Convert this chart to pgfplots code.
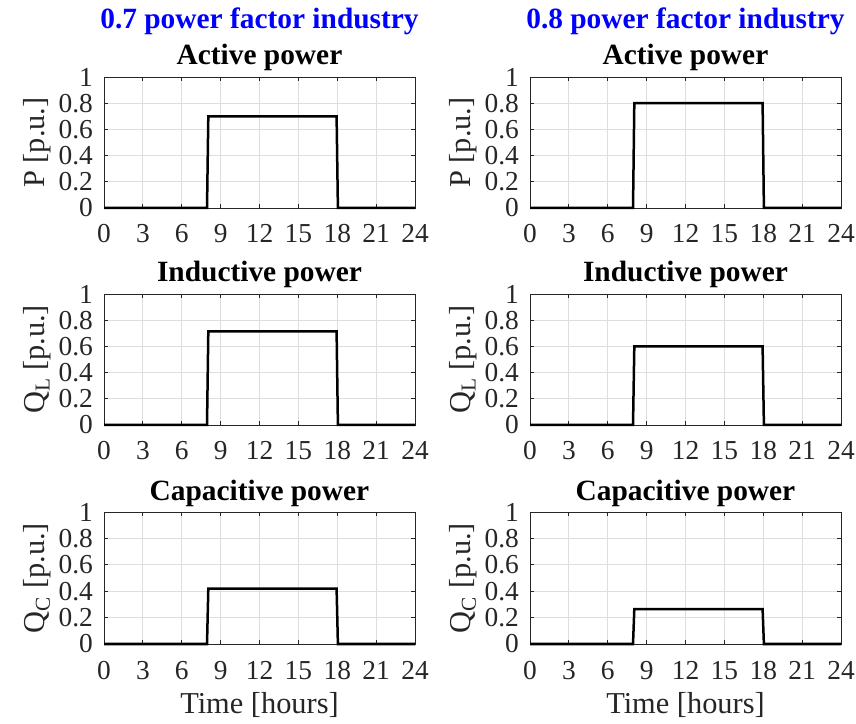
\documentclass[border=0pt]{standalone}
\usepackage{fontspec}
\setmainfont{Liberation Serif}
\usepackage{pgfplots}
\pgfplotsset{compat=1.18}
\definecolor{axgray}{rgb}{0.15,0.15,0.15}
\definecolor{gridgray}{rgb}{0.87,0.87,0.87}
\pgfplotsset{
  myax/.style={
    scale only axis, width=311bp, height=131bp, anchor=south west,
    xmin=0, xmax=24, ymin=0, ymax=1,
    xtick={0,3,...,24}, ytick={0,0.2,0.4,0.6,0.8,1},
    grid=major, major grid style={gridgray, line width=0.8bp},
    axis line style={axgray, line width=0.9bp},
    tick style={axgray, line width=0.9bp}, tick align=inside, major tick length=4bp,
    /pgf/number format/assume math mode=true,
    ticklabel style={font=\fontsize{27.5}{27.5}\selectfont, text=axgray},
    xticklabel style={anchor=base, yshift=-35bp},
    yticklabel style={anchor=east, inner sep=0pt, xshift=-11bp},
    every axis y label/.style={at={(axis description cs:0,0.5)}, xshift=-67bp, rotate=90, anchor=center, font=\fontsize{30.5}{30.5}\selectfont, text=axgray},
    every axis x label/.style={at={(axis description cs:0.5,0)}, anchor=base, yshift=-69bp, font=\fontsize{30.5}{30.5}\selectfont, text=axgray},
    every axis title/.style={at={(axis description cs:0.5,1)}, anchor=base, yshift=12bp, font=\bfseries\fontsize{29.5}{29.5}\selectfont},
    clip=false,
  },
  sig/.style={black, line width=2.5bp, no marks},
}
\begin{document}
\begin{tikzpicture}
\path[use as bounding box] (0bp,0bp) rectangle (856bp,724bp);
% ---------- left column: 0.7 pf ----------
\begin{axis}[myax, at={(104bp,516bp)}, title={Active power}, ylabel={P [p.u.]}]
\addplot[sig] coordinates {(0,0) (7.95,0) (8.05,0.7) (17.95,0.7) (18.05,0) (24,0)};
\node[anchor=base, font=\bfseries\fontsize{29.5}{29.5}\selectfont, text=blue] at ([yshift=48bp]axis description cs:0.5,1) {0.7 power factor industry};
\end{axis}
\begin{axis}[myax, at={(104bp,299bp)}, title={Inductive power}, ylabel={Q\textsubscript{L} [p.u.]}]
\addplot[sig] coordinates {(0,0) (7.95,0) (8.05,0.714) (17.95,0.714) (18.05,0) (24,0)};
\end{axis}
\begin{axis}[myax, at={(104bp,80bp)}, height=132bp, title={Capacitive power}, ylabel={Q\textsubscript{C} [p.u.]}, xlabel={Time [hours]}]
\addplot[sig] coordinates {(0,0) (7.95,0) (8.05,0.42) (17.95,0.42) (18.05,0) (24,0)};
\end{axis}
% ---------- right column: 0.8 pf ----------
\begin{axis}[myax, at={(530bp,516bp)}, title={Active power}, ylabel={P [p.u.]}]
\addplot[sig] coordinates {(0,0) (7.95,0) (8.05,0.8) (17.95,0.8) (18.05,0) (24,0)};
\node[anchor=base, font=\bfseries\fontsize{29.5}{29.5}\selectfont, text=blue] at ([yshift=48bp]axis description cs:0.5,1) {0.8 power factor industry};
\end{axis}
\begin{axis}[myax, at={(530bp,299bp)}, title={Inductive power}, ylabel={Q\textsubscript{L} [p.u.]}]
\addplot[sig] coordinates {(0,0) (7.95,0) (8.05,0.6) (17.95,0.6) (18.05,0) (24,0)};
\end{axis}
\begin{axis}[myax, at={(530bp,80bp)}, height=132bp, title={Capacitive power}, ylabel={Q\textsubscript{C} [p.u.]}, xlabel={Time [hours]}]
\addplot[sig] coordinates {(0,0) (7.95,0) (8.05,0.265) (17.95,0.265) (18.05,0) (24,0)};
\end{axis}
\end{tikzpicture}
\end{document}
